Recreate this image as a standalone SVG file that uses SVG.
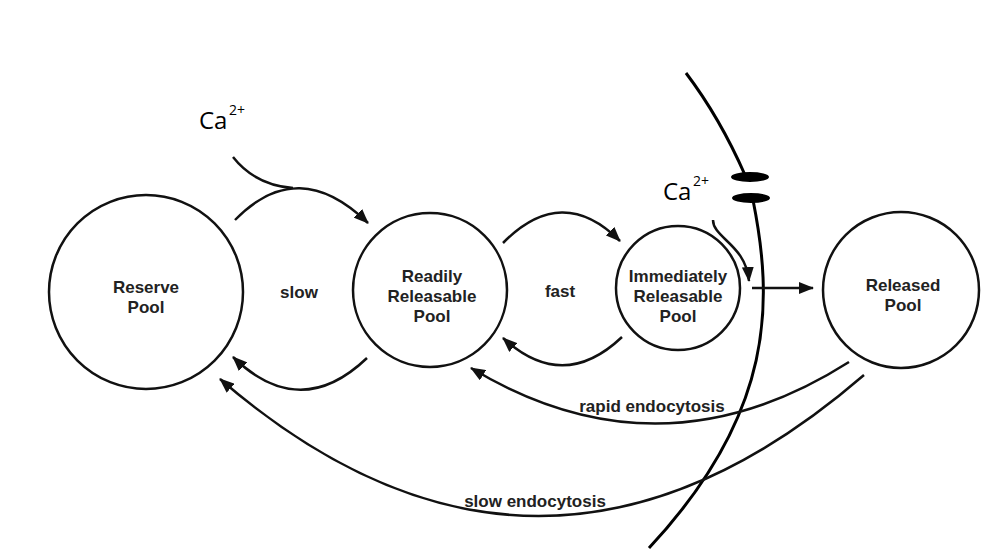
<svg xmlns="http://www.w3.org/2000/svg" width="987" height="556" viewBox="0 0 987 556">
<style>
.pool{fill:none;stroke:#111;stroke-width:2.5}
.lbl{font-family:"Liberation Sans",Arial,sans-serif;font-weight:bold;font-size:17px;fill:#222;text-anchor:middle}
.ca{font-family:"Open Sans","Noto Sans",sans-serif;fill:#000}
.conn{fill:none;stroke:#111;stroke-width:2.5}
.mem{fill:none;stroke:#000;stroke-width:3}
</style>
<defs>
<marker id="ah" markerUnits="userSpaceOnUse" markerWidth="16" markerHeight="12" refX="14" refY="6" orient="auto">
<path d="M0,0 L15,6 L0,12 z" fill="#111"/>
</marker>
</defs>
<rect width="987" height="556" fill="#fff"/>

<g id="membrane">
<path class="mem" d="M686,73 Q720,118 745,175"/>
<path class="mem" d="M753,200 C773,300 776,412 649,548"/>
<ellipse cx="750" cy="177" rx="19" ry="5" fill="#000"/>
<ellipse cx="751" cy="198" rx="19" ry="5" fill="#000"/>
</g>

<g id="reserve-pool">
<circle class="pool" cx="146" cy="292" r="97"/>
<text class="lbl" x="146" y="293">Reserve</text>
<text class="lbl" x="146" y="313">Pool</text>
</g>
<g id="readily-releasable-pool">
<circle class="pool" cx="430" cy="290" r="77"/>
<text class="lbl" x="432" y="282">Readily</text>
<text class="lbl" x="432" y="302">Releasable</text>
<text class="lbl" x="432" y="322">Pool</text>
</g>
<g id="immediately-releasable-pool">
<circle class="pool" cx="678" cy="288" r="62"/>
<text class="lbl" x="678" y="282">Immediately</text>
<text class="lbl" x="678" y="302">Releasable</text>
<text class="lbl" x="678" y="322">Pool</text>
</g>
<g id="released-pool">
<circle class="pool" cx="901" cy="290" r="78"/>
<text class="lbl" x="903" y="291">Released</text>
<text class="lbl" x="903" y="311">Pool</text>
</g>

<g id="ca-top">
<text class="ca" x="199" y="129" font-size="24">Ca</text>
<text class="ca" x="229" y="115" font-size="14">2+</text>
</g>
<g id="ca-channel">
<text class="ca" x="663" y="200" font-size="24">Ca</text>
<text class="ca" x="693" y="186" font-size="14">2+</text>
</g>

<g id="connectors">
<path class="conn" d="M235,220 Q298,155 368,223" marker-end="url(#ah)"/>
<path class="conn" d="M233,157 Q255,185 293,188"/>
<path class="conn" d="M367,358 Q300,422 233,357" marker-end="url(#ah)"/>
<path class="conn" d="M503,243 Q562,183 620,241" marker-end="url(#ah)"/>
<path class="conn" d="M622,337 Q563,393 503,338" marker-end="url(#ah)"/>
<path class="conn" d="M713,220 C713,238 746,245 749,281" marker-end="url(#ah)"/>
<path class="conn" d="M752,288 L813,288" marker-end="url(#ah)"/>
<path class="conn" d="M849,362 Q660,482 471,368" marker-end="url(#ah)"/>
<path class="conn" d="M864,375 Q540,655 220,379" marker-end="url(#ah)"/>
<text class="lbl" x="652" y="412">rapid endocytosis</text>
<text class="lbl" x="535" y="507">slow endocytosis</text>
<text class="lbl" x="299" y="298">slow</text>
<text class="lbl" x="560" y="297">fast</text>
</g>
</svg>
